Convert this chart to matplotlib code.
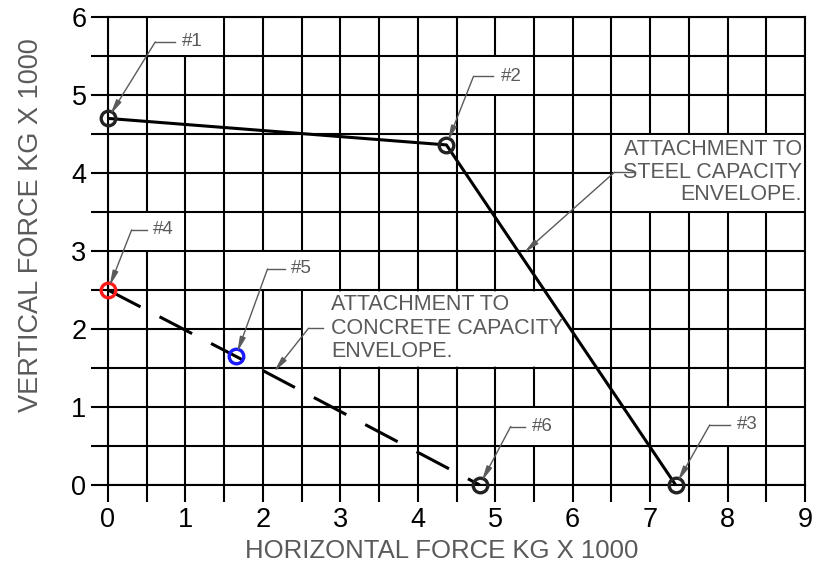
import numpy as np
import matplotlib
matplotlib.use("Agg")
import matplotlib.pyplot as plt
from matplotlib.patches import Rectangle
from matplotlib.ticker import MultipleLocator

plt.rcParams["font.family"] = ["Liberation Sans", "DejaVu Sans"]

# steel capacity envelope: points #1, #2, #3
steel_x = [0.0, 4.37, 7.33]
steel_y = [4.70, 4.36, 0.0]
steel_labels = ["#1", "#2", "#3"]
steel_colors = ["#222222", "#222222", "#222222"]

# concrete capacity envelope: points #4, #5, #6
conc_x = [0.0, 1.65, 4.80]
conc_y = [2.50, 1.65, 0.0]
conc_labels = ["#4", "#5", "#6"]
conc_colors = ["#ff1a1a", "#1a1aff", "#222222"]

x_ticks = list(range(0, 10))
y_ticks = list(range(0, 7))

gray = "#5a5a5a"

fig = plt.figure(figsize=(8.31, 5.63), dpi=100)
ax = fig.add_axes([108 / 831, 78 / 563, 697 / 831, 468 / 563])
ax.set_xlim(0, 9)
ax.set_ylim(0, 6)
ax.set_xticks(x_ticks)
ax.set_yticks(y_ticks)
ax.xaxis.set_minor_locator(MultipleLocator(0.5))
ax.yaxis.set_minor_locator(MultipleLocator(0.5))
ax.grid(True, which="both", color="black", lw=1.5)
ax.set_axisbelow(True)
for s in ax.spines.values():
    s.set_linewidth(1.5)
    s.set_color("black")
ax.tick_params(which="both", direction="out", length=12.5, width=1.5,
               color="black", top=False, right=False)
ax.tick_params(axis="x", which="major", pad=3, labelsize=19.5)
ax.tick_params(axis="y", which="major", pad=3, labelsize=19.5)
ax.set_xlabel("HORIZONTAL FORCE KG X 1000", fontsize=18.5, color=gray)
ax.set_ylabel("VERTICAL FORCE KG X 1000", fontsize=19.5, color=gray)
ax.xaxis.set_label_coords(0.479, -0.115)
ax.yaxis.set_label_coords(-0.092, 0.556)

# white cells behind the callouts (grid trimmed as in the CAD drawing)
d = 0.017
cells = [(0.5, 5.5, 1.5, 6.0), (4.5, 5.0, 5.5, 5.5), (7.5, 0.5, 8.5, 1.0),
         (0.0, 3.0, 1.0, 3.5), (1.5, 2.5, 3.0, 3.0), (5.0, 0.5, 6.0, 1.0),
         (6.5, 3.5, 9.0, 4.5)]
for x0, y0, x1, y1 in cells:
    ax.add_patch(Rectangle((x0 + d, y0 + d), x1 - x0 - 2 * d, y1 - y0 - 2 * d,
                           fc="white", ec="none", zorder=1))
yy = np.linspace(1.5 + d, 2.5 - d, 50)
x_edge = np.minimum(np.interp(yy, steel_y[::-1], steel_x[::-1]), 6.0 - d)
ax.fill_betweenx(yy, 2.5 + d, x_edge, fc="white", ec="none", zorder=1)

# envelopes
ax.plot(steel_x, steel_y, color="black", lw=2.2, zorder=3)
ax.plot(conc_x, conc_y, color="black", lw=2.2, dashes=(12, 7), zorder=3)
for xs, ys, cs in [(steel_x, steel_y, steel_colors), (conc_x, conc_y, conc_colors)]:
    for x, y, c in zip(xs, ys, cs):
        ax.plot([x], [y], "o", ms=10.5, mfc="none", mec=c, mew=2.4,
                zorder=4, clip_on=False)

arrow = dict(arrowstyle="-|>,head_length=0.9,head_width=0.17", color=gray,
             lw=1.0, shrinkA=0, shrinkB=3)


def callout(text, tip, elbow, hend, tx, ha="left", size=13.5, ls=1.0):
    ax.plot([elbow[0], hend], [elbow[1], elbow[1]], color=gray, lw=1.0, zorder=5)
    ax.annotate("", xy=tip, xytext=elbow, arrowprops=arrow, zorder=5)
    ax.text(tx, elbow[1], text, ha=ha, va="center", fontsize=size,
            color=gray, linespacing=ls, zorder=5)


# point callouts: (elbow, end of horizontal stroke, text x)
point_layout = [((0.61, 5.68), 0.865, 0.95),
                ((4.72, 5.24), 4.97, 5.08),
                ((7.77, 0.77), 8.03, 8.12),
                ((0.305, 3.27), 0.50, 0.58),
                ((2.06, 2.77), 2.28, 2.36),
                ((5.20, 0.75), 5.38, 5.48)]
all_x = steel_x + conc_x
all_y = steel_y + conc_y
all_labels = steel_labels + conc_labels
for (elbow, hend, tx), x, y, lab in zip(point_layout, all_x, all_y, all_labels):
    callout(lab, (x, y), elbow, hend, tx)

# envelope callouts, arrow tips placed on the lines
t_s = 0.325
tip_s = (steel_x[1] + t_s * (steel_x[2] - steel_x[1]),
         steel_y[1] + t_s * (steel_y[2] - steel_y[1]))
callout("ATTACHMENT TO\nSTEEL CAPACITY\nENVELOPE.", tip_s, (6.54, 4.01), 6.80,
        8.96, ha="right", size=15.5, ls=1.1)
t_c = 0.146
tip_c = (conc_x[1] + t_c * (conc_x[2] - conc_x[1]),
         conc_y[1] + t_c * (conc_y[2] - conc_y[1]))
callout("ATTACHMENT TO\nCONCRETE CAPACITY\nENVELOPE.", tip_c, (2.59, 2.01), 2.78,
        2.88, ha="left", size=15.5, ls=1.16)

fig.savefig("out.png", dpi=100)
